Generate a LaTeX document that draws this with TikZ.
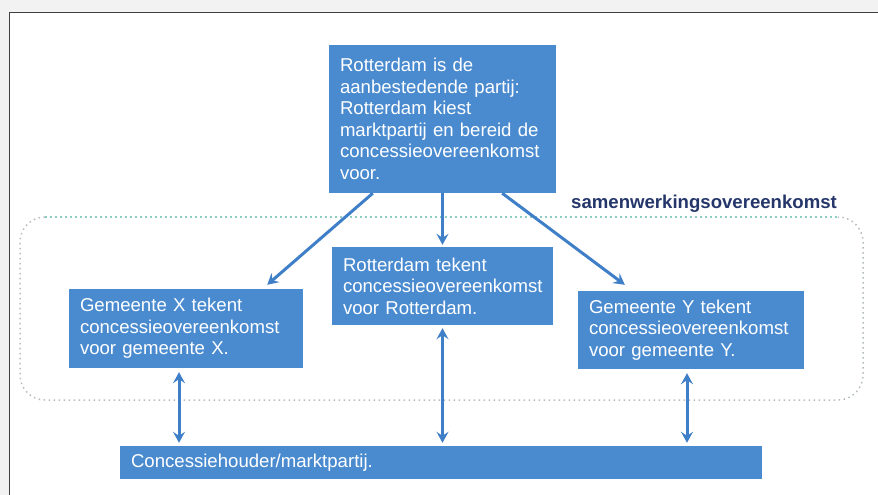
\documentclass[tikz,border=0pt]{standalone}
\usepackage{fontspec}
\setmainfont{Liberation Sans}
\usepackage{xcolor}
\usetikzlibrary{arrows.meta,calc}
\definecolor{vakblauw}{HTML}{4A8BD0}
\definecolor{pijlblauw}{HTML}{3F7FC8}
\definecolor{kadergrijs}{HTML}{B4BCC0}
\definecolor{kadergroen}{HTML}{8CCFC2}
\definecolor{labelblauw}{HTML}{24366A}
\newcommand{\vakfont}{\fontsize{18.6}{21.5}\selectfont}

\begin{document}
\begin{tikzpicture}[x=1pt,y=-1pt,
  vak/.style={fill=vakblauw, text=white, align=left, inner xsep=11pt, inner ysep=0pt, font=\vakfont},
  pijl/.style={draw=pijlblauw, line width=3pt, -{Stealth[length=11pt,width=12pt,inset=4pt]}},
  dubbel/.style={pijl, {Stealth[length=11pt,width=12pt,inset=4pt]}-{Stealth[length=11pt,width=12pt,inset=4pt]}},
  kader/.style={line width=1.5pt, dash pattern=on 1.5pt off 3.5pt}]
    \useasboundingbox (0,0) rectangle (878,495);

    % frame of the page
    \fill[gray!10] (0,0) rectangle (878,12);
    \fill[gray!10] (0,0) rectangle (9,495);
    \draw[line width=1pt, black!75] (9.5,495) -- (9.5,12.5) -- (878,12.5);

    % samenwerking
    \coordinate (kaderLB) at (20,400);
    \coordinate (kaderRO) at (863,217);
    \draw[kader, kadergrijs, rounded corners=25pt] (45,217) -| (kaderLB) -| (kaderRO) -- (838,217);
    \draw[kader, kadergroen] (45,217) -- (838,217);
    \node[font=\bfseries\vakfont, text=labelblauw, anchor=base west, inner sep=0pt] (samen) at (571,208) {samenwerkingsovereenkomst};

    \node[vak, text width=205pt, minimum height=148pt] (rdam) at (442.5,119) {Rotterdam is de\\aanbestedende partij:\\Rotterdam kiest\\marktpartij en bereid de\\concessieovereenkomst\\voor.};
    \node[vak, text width=199pt, minimum height=78pt] (mid) at (442.5,286) {Rotterdam tekent\\concessieovereenkomst\\voor Rotterdam.};
    \node[vak, text width=212pt, minimum height=79pt] (gemX) at (186,328.5) {Gemeente X tekent\\concessieovereenkomst\\voor gemeente X.};
    \node[vak, text width=204pt, minimum height=78pt] (gemY) at (691,330) {Gemeente Y tekent\\concessieovereenkomst\\voor gemeente Y.};
    \node[vak, text width=620pt, minimum height=33pt] (houder) at (441,462.5) {Concessiehouder/marktpartij.};

    \draw[pijl] ($(rdam.south west)+(44,0)$) -- ($(gemX.north east)+(-36,-4)$);
    \draw[pijl] (rdam.south) -- ($(mid.north)+(0,-2)$);
    \draw[pijl] ($(rdam.south east)+(-54,0)$) -- ($(gemY.north west)+(47,-6)$);

    \draw[dubbel] ($(gemX.south)+(-7,4)$) -- ($(gemX.south |- houder.north)+(-7,-3)$);
    \draw[dubbel] ($(mid.south)+(0,3)$) -- ($(mid.south |- houder.north)+(0,-3)$);
    \draw[dubbel] ($(gemY.south)+(-4,4)$) -- ($(gemY.south |- houder.north)+(-4,-3)$);
  \end{tikzpicture}
\end{document}
